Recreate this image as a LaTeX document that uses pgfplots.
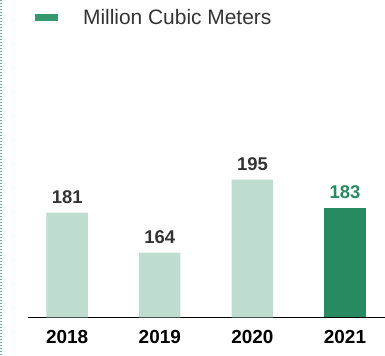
\documentclass[border=0pt]{standalone}
\usepackage{pgfplots}
\pgfplotsset{compat=1.18}
\usepackage{fontspec}
\setmainfont{Liberation Sans}
\definecolor{lightg}{HTML}{BEDCD0}
\definecolor{darkg}{HTML}{288A60}
\definecolor{legg}{HTML}{36996E}
\definecolor{txt}{HTML}{333333}
\definecolor{dotc}{HTML}{6DB59B}
\begin{document}
\begin{tikzpicture}
\path[use as bounding box] (0,0) rectangle (385bp,356bp);
\draw[dotc, line width=2bp, dash pattern=on 1.5bp off 1.5bp] (1bp,356bp) -- (1bp,0);
\begin{axis}[
  at={(28.3bp,38.7bp)}, anchor=south west,
  scale only axis, width=356.7bp, height=277bp,
  xmin=-0.42, xmax=3.432, ymin=136.6, ymax=254,
  axis x line*=bottom, axis y line=none,
  x axis line style={black, line width=1.3bp, -},
  xtick={0,1,2,3}, xticklabels={2018,2019,2020,2021},
  major tick length=0pt,
  xticklabel style={font=\fontsize{19}{19}\selectfont\bfseries, text=black, inner sep=0pt, anchor=north, yshift=-13bp},
  ytick=\empty,
  /pgf/number format/assume math mode=true,
  ybar, bar width=41.4bp, bar shift=0pt,
  nodes near coords,
  every node near coord/.append style={font=\fontsize{18.5}{18.5}\selectfont\bfseries, inner sep=0pt, anchor=south, yshift=9bp},
  legend style={at={(0.019,1.083)}, anchor=west, draw=none, fill=none, inner sep=0pt, outer sep=0pt,
     font=\fontsize{21}{21}\selectfont, text=txt, nodes={inner sep=0pt}, column sep=25bp},
  legend image code/.code={\fill[legg] (0bp,-3.8bp) rectangle (23bp,3.8bp);},
  clip=false,
]
\addplot[fill=lightg, draw=none, every node near coord/.append style={text=txt}] coordinates {(0,181) (1,164) (2,195)};
\addlegendentry{Million Cubic Meters}
\addplot[fill=darkg, draw=none, every node near coord/.append style={text=darkg}, forget plot] coordinates {(3,183)};
\end{axis}
\end{tikzpicture}
\end{document}
